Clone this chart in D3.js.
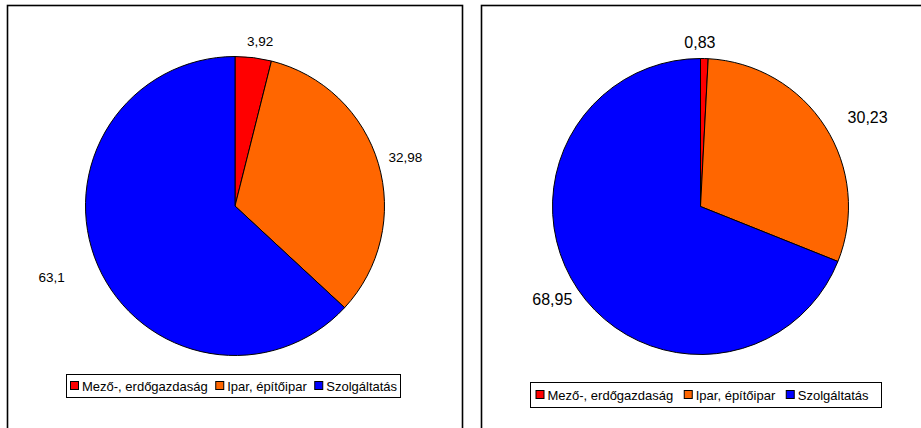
<!DOCTYPE html>
<html><head><meta charset="utf-8">
<script src="https://cdn.jsdelivr.net/npm/d3@7"></script>
<style>body{margin:0;background:#fff}svg{display:block}</style>
</head><body>
<svg id="c" width="921" height="428"></svg>
<script>
const categories = ["Mező-, erdőgazdaság", "Ipar, építőipar", "Szolgáltatás"];
const valuesLeft = [3.92, 32.98, 63.1];
const valuesRight = [0.83, 30.23, 68.95];
const labelsLeft = ["3,92", "32,98", "63,1"];
const labelsRight = ["0,83", "30,23", "68,95"];
const colors = ["#ff0000", "#ff6600", "#0000ff"];

const svg = d3.select("#c");
const panels = [
  {values: valuesLeft, labels: labelsLeft, frame:[7.5,5.5,455,460], cx:235, cy:206, r:149.5, font:13.5,
   pad:[10,10,33], dAng:[1.6,0.7,2.4],
   legend:{x:66.5, y:374.5, w:334, h:23, padL:4, gap:8}},
  {values: valuesRight, labels: labelsRight, frame:[481.5,5.5,460,460], cx:700.5, cy:206.5, r:148, font:16,
   pad:[10,21,7], dAng:[-1.7,4.5,1.9],
   legend:{x:530.5, y:382.5, w:351, h:25, padL:5.5, gap:11}}
];
const color = d3.scaleOrdinal().domain(categories).range(colors);

panels.forEach(p => {
  const g = svg.append("g");
  g.append("rect").attr("x",p.frame[0]).attr("y",p.frame[1]).attr("width",p.frame[2]).attr("height",p.frame[3])
    .attr("fill","none").attr("stroke","#000").attr("stroke-width",1.6);
  const data = categories.map((c,i)=>({cat:c, v:p.values[i], label:p.labels[i]}));
  const pie = d3.pie().sort(null).value(d=>d.v);
  const arcs = pie(data);
  const arc = d3.arc().innerRadius(0).outerRadius(p.r);
  const pg = g.append("g").attr("transform",`translate(${p.cx},${p.cy})`);
  pg.selectAll("path").data(arcs).join("path").attr("d",arc)
    .attr("fill",d=>color(d.data.cat)).attr("stroke","#000").attr("stroke-width",1).attr("stroke-linejoin","round");
  arcs.forEach((a,i)=>{
    const mid=(a.startAngle+a.endAngle)/2 + p.dAng[i]*Math.PI/180;
    const t = pg.append("text").text(a.data.label).attr("font-family","Liberation Sans, Arial, sans-serif")
      .attr("font-size",p.font).attr("fill","#000").attr("text-anchor","middle").attr("dominant-baseline","central");
    const w = t.node().getComputedTextLength();
    const h = p.font*0.75;
    const rr = p.r + p.pad[i] + Math.abs(Math.sin(mid))*w/2 + Math.abs(Math.cos(mid))*h/2;
    t.attr("x", rr*Math.sin(mid)).attr("y", -rr*Math.cos(mid));
  });
  // legend
  const L = p.legend;
  const lg = g.append("g");
  lg.append("rect").attr("x",L.x).attr("y",L.y).attr("width",L.w).attr("height",L.h)
    .attr("fill","#fff").attr("stroke","#000").attr("stroke-width",1);
  let x = L.x + L.padL;
  const cy = L.y + L.h/2;
  categories.forEach((c,i)=>{
    lg.append("rect").attr("x",x).attr("y",cy-4.5).attr("width",8).attr("height",8)
      .attr("fill",color(c)).attr("stroke","#000").attr("stroke-width",1);
    const t = lg.append("text").attr("x",x+11.5).attr("y",cy).attr("dominant-baseline","central")
      .attr("font-family","Liberation Sans, Arial, sans-serif").attr("font-size",13).attr("fill","#000").text(c);
    x += 11.5 + t.node().getComputedTextLength() + L.gap;
  });
});
</script>
</body></html>
